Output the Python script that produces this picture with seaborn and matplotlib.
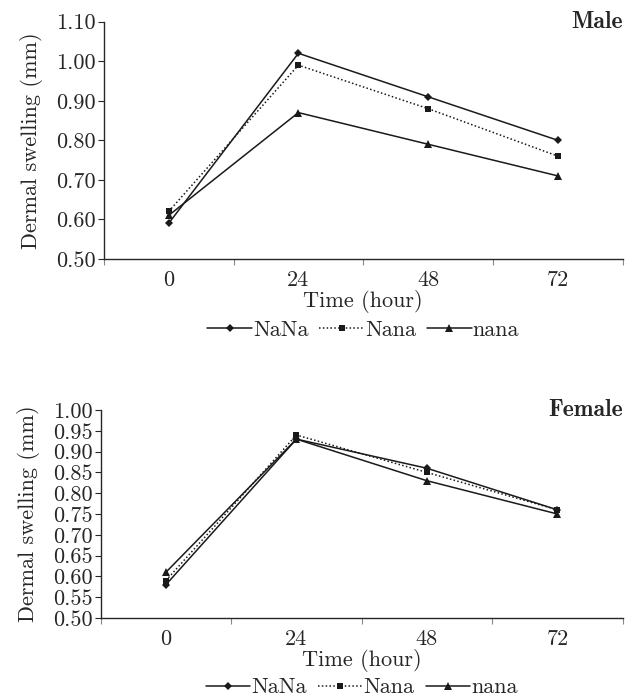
import matplotlib
matplotlib.use("Agg")
import matplotlib.pyplot as plt
import seaborn as sns
import numpy as np
import pandas as pd

# data
hours = ["0", "24", "48", "72"]
genotypes = ["NaNa", "Nana", "nana"]

male_NaNa = [0.59, 1.02, 0.91, 0.80]
male_Nana = [0.62, 0.99, 0.88, 0.76]
male_nana = [0.61, 0.87, 0.79, 0.71]

female_NaNa = [0.58, 0.93, 0.86, 0.76]
female_Nana = [0.59, 0.94, 0.85, 0.76]
female_nana = [0.61, 0.93, 0.83, 0.75]

male_yticks = [0.50, 0.60, 0.70, 0.80, 0.90, 1.00, 1.10]
female_yticks = [0.50, 0.55, 0.60, 0.65, 0.70, 0.75, 0.80, 0.85, 0.90, 0.95, 1.00]


def to_long(series):
    rows = []
    for g, vals in zip(genotypes, series):
        for i, v in enumerate(vals):
            rows.append({"pos": i, "hour": hours[i], "genotype": g, "swelling": v})
    return pd.DataFrame(rows)


sns.set_style("ticks")
plt.rcParams["font.family"] = ["cmr10", "DejaVu Serif"]
plt.rcParams["font.size"] = 16
plt.rcParams["axes.unicode_minus"] = False

fig = plt.figure(figsize=(6.29, 6.98), dpi=100)
ax1 = fig.add_axes([0.165, 0.629, 0.825, 0.340])
ax2 = fig.add_axes([0.160, 0.1146, 0.830, 0.298])

markers = {"NaNa": "D", "Nana": "s", "nana": "^"}
dashes = {"NaNa": "", "Nana": (1, 1.5), "nana": ""}
palette = {g: "#1a1a1a" for g in genotypes}
msize = {"D": 4, "s": 5, "^": 6}


def draw(ax, df, yticks, title, leg_y):
    sns.lineplot(data=df, x="pos", y="swelling", hue="genotype", style="genotype",
                 markers=markers, dashes=dashes, palette=palette, ax=ax,
                 linewidth=1.1, markersize=5, markeredgewidth=0, legend=True)
    for ln in ax.lines:
        m = ln.get_marker()
        if m in msize:
            ln.set_markersize(msize[m])
    ax.set_xlim(-0.5, 3.5)
    ax.set_ylim(yticks[0], yticks[-1])
    ax.set_yticks(yticks)
    ax.set_yticklabels([f"{t:.2f}" for t in yticks])
    # category labels centred, tick marks between categories
    ax.set_xticks(np.arange(-0.5, 4.0, 1.0))
    ax.set_xticklabels([])
    ax.set_xticks(np.arange(len(hours)), minor=True)
    ax.set_xticklabels(hours, minor=True)
    ax.tick_params(axis="x", which="major", length=4, width=0.8, color="#888888")
    ax.tick_params(axis="x", which="minor", length=0, pad=8)
    ax.tick_params(axis="y", length=4, width=0.8, pad=2)
    sns.despine(ax=ax)
    ax.spines["left"].set_linewidth(1.0)
    ax.spines["bottom"].set_linewidth(1.0)
    ax.set_xlabel("Time (hour)", labelpad=0)
    ax.set_ylabel("Dermal swelling (mm)", labelpad=9)
    ax.text(1.0, 1.0, title, transform=ax.transAxes, ha="right", va="center",
            family=["cmb10", "DejaVu Serif"], fontsize=17)
    handles, labels = ax.get_legend_handles_labels()
    for h in handles:
        m = h.get_marker()
        if m in msize:
            h.set_markersize(msize[m])
    ax.legend(handles, labels, loc="center", bbox_to_anchor=(0.5, leg_y), ncol=3,
              frameon=False, handlelength=2.0, handletextpad=0.05, columnspacing=0.5,
              borderaxespad=0, fontsize=16)


draw(ax1, to_long([male_NaNa, male_Nana, male_nana]), male_yticks, "Male", -0.30)
draw(ax2, to_long([female_NaNa, female_Nana, female_nana]), female_yticks, "Female", -0.335)

fig.savefig("out.png", dpi=100)
